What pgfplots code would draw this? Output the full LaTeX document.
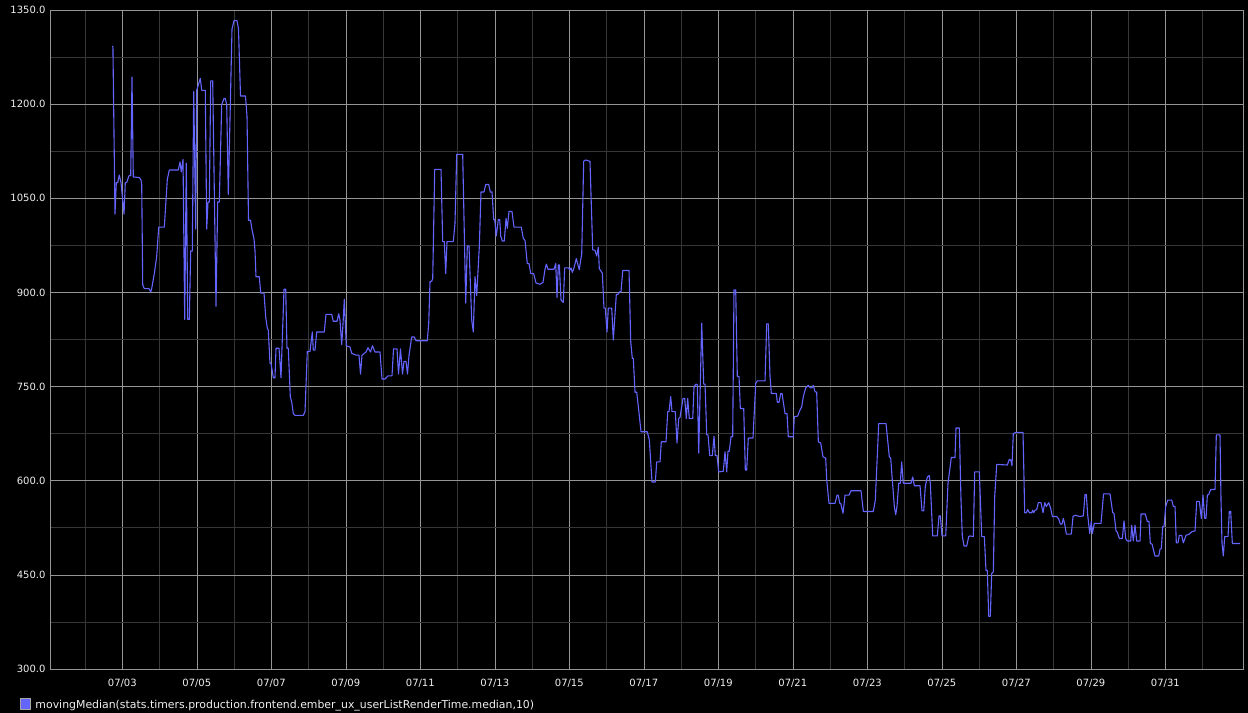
\documentclass[border=0pt]{standalone}
\usepackage{fontspec}
\setmainfont{DejaVu Sans}
\usepackage{pgfplots}
\pgfplotsset{compat=1.18}
\definecolor{gblue}{RGB}{100,100,255}
\definecolor{majgrid}{RGB}{150,150,150}
\definecolor{mingrid}{RGB}{55,55,55}
\definecolor{fg}{RGB}{240,240,240}
\begin{document}
\begin{tikzpicture}
\path[use as bounding box, fill=black] (-50bp,-44bp) rectangle (1198bp,669bp);
\begin{axis}[
  at={(0,0)}, anchor=south west,
  scale only axis, width=1193bp, height=659bp,
  xmin=1.059, xmax=33.086, ymin=300, ymax=1350,
  xtick={3,5,...,31},
  xticklabels={07/03,07/05,07/07,07/09,07/11,07/13,07/15,07/17,07/19,07/21,07/23,07/25,07/27,07/29,07/31},
  minor xtick={2,4,...,32},
  ytick={300,450,...,1350},
  yticklabels={300.0,450.0,600.0,750.0,900.0,1050.0,1200.0,1350.0},
  minor ytick={375,525,...,1275},
  grid=both,
  major grid style={draw=majgrid, line width=0.6bp},
  minor grid style={draw=mingrid, line width=0.6bp},
  axis line style={draw=majgrid, line width=0.6bp},
  major tick length=0pt, minor tick length=0pt,
  /pgf/number format/assume math mode=true,
  tick label style={font=\fontsize{10bp}{12bp}\selectfont, text=fg},
  xticklabel style={yshift=-7bp},
  yticklabel style={xshift=-1bp},
  legend style={at={(0,0)}, anchor=north west, xshift=-30bp, yshift=-29bp,
    draw=none, fill=none, inner sep=0pt, outer sep=0pt,
    font=\fontsize{10.9bp}{13bp}\selectfont, text=fg,
    /tikz/every odd column/.append style={column sep=2.5bp}},
  legend cell align=left,
  legend image code/.code={\filldraw[fill=gblue, draw=gray!70, line width=0.5bp] (0bp,-4bp) rectangle (10.5bp,6.5bp);},
]
\addplot[gblue, line width=1.1bp, line join=round] coordinates {
(2.730,1292) (2.748,1292) (2.804,1025) (2.839,1075) (2.877,1075) (2.919,1087) (2.965,1075) (3.046,1025) (3.081,1075) (3.118,1075) (3.180,1086) (3.226,1086) (3.260,1243) (3.295,1084) (3.456,1083) (3.502,1079) (3.521,1072) (3.548,912) (3.591,906) (3.717,906) (3.762,901) (3.789,906) (3.859,930) (3.923,957) (3.977,1004) (4.128,1004) (4.208,1080) (4.262,1095) (4.503,1095) (4.549,1108) (4.584,1092) (4.630,1112) (4.675,857) (4.718,1106) (4.756,857) (4.799,857) (4.836,966) (4.879,966) (4.917,1220) (4.970,1001) (4.997,1222) (5.094,1241) (5.132,1222) (5.228,1222) (5.266,1001) (5.301,1044) (5.336,1044) (5.373,1237) (5.427,1237) (5.515,878) (5.561,1044) (5.604,1044) (5.668,1199) (5.730,1209) (5.765,1209) (5.803,1199) (5.846,1056) (5.945,1320) (5.999,1333) (6.079,1333) (6.119,1320) (6.173,1213) (6.307,1213) (6.348,1180) (6.388,1015) (6.442,1015) (6.482,1000) (6.536,985) (6.562,967) (6.589,925) (6.678,925) (6.715,899) (6.804,899) (6.850,861) (6.893,843) (6.919,840) (6.965,787) (6.992,787) (7.054,764) (7.099,764) (7.126,811) (7.207,811) (7.260,764) (7.341,905) (7.387,905) (7.421,811) (7.456,811) (7.510,734) (7.548,725) (7.591,707) (7.636,704) (7.859,704) (7.905,710) (7.966,806) (8.039,806) (8.101,837) (8.128,808) (8.173,808) (8.219,837) (8.423,837) (8.468,865) (8.621,865) (8.664,854) (8.764,854) (8.809,866) (8.844,856) (8.890,817) (8.925,850) (8.960,889) (9.013,815) (9.113,813) (9.158,803) (9.274,800) (9.354,800) (9.395,770) (9.435,800) (9.542,805) (9.596,812) (9.663,805) (9.717,815) (9.784,805) (9.918,805) (9.972,762) (10.052,762) (10.133,767) (10.240,767) (10.281,810) (10.374,810) (10.415,770) (10.468,810) (10.522,770) (10.562,790) (10.616,790) (10.656,770) (10.697,800) (10.769,829) (10.839,829) (10.884,823) (11.188,823) (11.226,851) (11.260,917) (11.306,918) (11.333,922) (11.387,1096) (11.556,1096) (11.601,981) (11.644,981) (11.682,930) (11.717,981) (11.886,981) (11.931,1010) (11.977,1120) (12.138,1120) (12.219,883) (12.262,974) (12.307,974) (12.380,856) (12.423,837) (12.468,925) (12.514,895) (12.584,973) (12.629,1060) (12.710,1060) (12.756,1072) (12.836,1072) (12.879,1060) (12.925,1060) (12.970,1016) (12.997,1016) (13.040,990) (13.094,1016) (13.132,1016) (13.158,990) (13.201,982) (13.255,982) (13.301,1018) (13.336,1002) (13.381,1029) (13.462,1029) (13.515,1004) (13.711,1004) (13.765,986) (13.811,983) (13.872,946) (13.918,946) (13.964,930) (14.044,930) (14.106,915) (14.213,913) (14.294,916) (14.348,937) (14.383,945) (14.428,937) (14.589,937) (14.635,946) (14.670,892) (14.705,944) (14.732,944) (14.777,888) (14.839,884) (14.876,939) (14.973,939) (15.019,936) (15.046,939) (15.081,932) (15.126,939) (15.188,954) (15.268,936) (15.306,952) (15.333,961) (15.386,1109) (15.440,1111) (15.555,1109) (15.628,968) (15.690,967) (15.736,958) (15.779,972) (15.805,938) (15.870,932) (15.886,931) (15.931,875) (15.966,875) (16.012,837) (16.047,875) (16.138,875) (16.181,824) (16.262,897) (16.307,897) (16.353,901) (16.388,901) (16.434,935) (16.603,935) (16.648,822) (16.691,795) (16.718,795) (16.764,741) (16.809,741) (16.844,723) (16.925,678) (17.094,678) (17.148,665) (17.220,598) (17.309,598) (17.346,630) (17.435,630) (17.470,662) (17.596,662) (17.642,710) (17.676,710) (17.722,734) (17.757,710) (17.846,710) (17.891,660) (17.937,699) (17.972,701) (18.052,731) (18.098,731) (18.141,699) (18.178,731) (18.221,699) (18.313,699) (18.348,750) (18.401,754) (18.436,753) (18.474,644) (18.554,851) (18.608,754) (18.643,754) (18.689,673) (18.724,673) (18.769,640) (18.839,640) (18.885,671) (18.919,640) (18.965,640) (19.011,614) (19.134,615) (19.180,646) (19.225,614) (19.260,647) (19.295,647) (19.341,670) (19.386,670) (19.421,904) (19.467,904) (19.510,766) (19.556,766) (19.591,715) (19.682,715) (19.725,617) (19.762,617) (19.805,668) (19.931,668) (20.004,755) (20.047,759) (20.254,759) (20.299,850) (20.342,850) (20.388,766) (20.423,739) (20.557,739) (20.584,725) (20.630,725) (20.675,739) (20.710,739) (20.791,707) (20.844,707) (20.879,670) (21.013,670) (21.040,702) (21.131,703) (21.174,710) (21.239,718) (21.282,734) (21.346,748) (21.416,752) (21.470,748) (21.515,748) (21.550,752) (21.596,742) (21.641,741) (21.685,662) (21.749,660) (21.811,638) (21.883,636) (21.910,601) (21.972,564) (22.133,564) (22.187,577) (22.221,577) (22.259,564) (22.286,564) (22.348,548) (22.402,577) (22.509,577) (22.562,584) (22.831,584) (22.893,551) (23.161,551) (23.215,569) (23.306,691) (23.502,691) (23.591,638) (23.628,636) (23.671,601) (23.725,559) (23.762,546) (23.797,559) (23.843,596) (23.886,596) (23.923,630) (23.966,596) (24.173,596) (24.219,606) (24.262,592) (24.415,592) (24.468,552) (24.514,552) (24.557,591) (24.611,606) (24.664,608) (24.691,596) (24.756,512) (24.879,512) (24.925,544) (24.960,544) (25.005,512) (25.105,512) (25.166,596) (25.201,612) (25.255,637) (25.354,637) (25.381,684) (25.470,684) (25.515,569) (25.550,512) (25.596,496) (25.668,496) (25.722,511) (25.757,512) (25.846,511) (25.883,614) (26.007,614) (26.071,511) (26.141,511) (26.186,457) (26.221,457) (26.259,384) (26.302,384) (26.339,452) (26.383,455) (26.420,575) (26.474,626) (26.758,625) (26.812,634) (26.850,633) (26.884,624) (26.919,675) (26.984,677) (27.180,677) (27.225,549) (27.268,549) (27.306,554) (27.349,549) (27.413,549) (27.440,553) (27.467,549) (27.502,553) (27.548,554) (27.591,565) (27.663,565) (27.717,549) (27.763,565) (27.805,559) (27.870,565) (27.923,556) (27.966,543) (28.084,543) (28.138,539) (28.181,531) (28.227,531) (28.262,540) (28.299,531) (28.342,515) (28.477,515) (28.522,543) (28.576,545) (28.702,543) (28.799,544) (28.844,578) (28.879,578) (28.917,545) (28.970,516) (29.013,535) (29.040,516) (29.094,532) (29.274,532) (29.341,579) (29.515,579) (29.588,549) (29.623,548) (29.677,520) (29.711,518) (29.765,508) (29.846,508) (29.892,536) (29.937,508) (29.980,504) (30.071,504) (30.098,529) (30.141,504) (30.187,529) (30.232,504) (30.321,504) (30.348,547) (30.463,547) (30.517,535) (30.562,535) (30.597,500) (30.643,499) (30.723,480) (30.823,480) (30.858,491) (30.893,492) (30.930,527) (30.965,527) (31.011,559) (31.064,569) (31.172,569) (31.215,559) (31.260,559) (31.295,501) (31.341,501) (31.376,513) (31.440,513) (31.483,501) (31.556,513) (31.644,515) (31.717,519) (31.797,520) (31.843,567) (31.913,567) (31.966,540) (32.012,577) (32.057,540) (32.092,540) (32.128,577) (32.165,578) (32.219,586) (32.334,586) (32.369,673) (32.468,673) (32.495,569) (32.522,500) (32.557,480) (32.594,511) (32.683,511) (32.718,551) (32.755,551) (32.799,500) (33.005,500)
};
\addlegendentry{movingMedian(stats.timers.production.frontend.ember\_ux\_userListRenderTime.median,10)}
\end{axis}
\end{tikzpicture}
\end{document}
